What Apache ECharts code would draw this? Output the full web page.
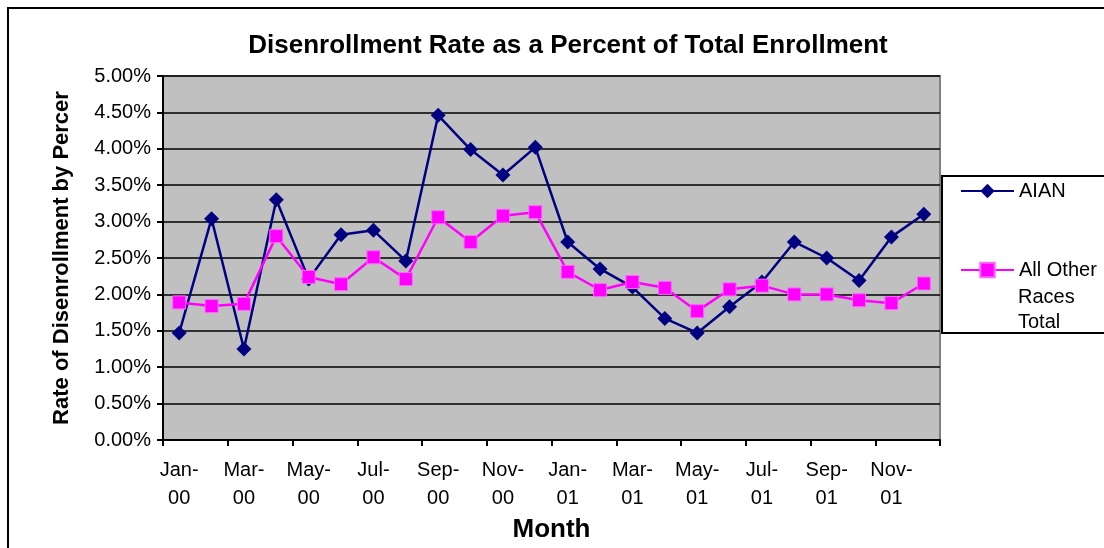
<!DOCTYPE html>
<html>
<head>
<meta charset="utf-8">
<script src="https://cdn.jsdelivr.net/npm/echarts@6/dist/echarts.min.js"></script>
<style>html,body{margin:0;padding:0;background:#fff;}#c{width:1104px;height:548px;}</style>
</head>
<body>
<div id="c"></div>
<script>
var months = ['Jan-00','Feb-00','Mar-00','Apr-00','May-00','Jun-00','Jul-00','Aug-00','Sep-00','Oct-00','Nov-00','Dec-00',
              'Jan-01','Feb-01','Mar-01','Apr-01','May-01','Jun-01','Jul-01','Aug-01','Sep-01','Oct-01','Nov-01','Dec-01'];
var aian = [1.47,3.04,1.25,3.30,2.21,2.82,2.88,2.46,4.46,3.99,3.64,4.02,
            2.72,2.35,2.10,1.67,1.47,1.83,2.17,2.72,2.50,2.19,2.79,3.10];
var otherRaces = [1.89,1.84,1.87,2.80,2.24,2.14,2.51,2.21,3.06,2.72,3.08,3.13,
                  2.31,2.06,2.17,2.09,1.77,2.07,2.12,2.00,2.00,1.92,1.88,2.15];
var yTicks = {min:0, max:5, interval:0.5};

var FONT = '"Liberation Sans", Arial, sans-serif';
var chart = echarts.init(document.getElementById('c'), null, {renderer:'canvas'});
chart.setOption({
  animation:false,
  backgroundColor:'#fff',
  title:{
    text:'Disenrollment Rate as a Percent of Total Enrollment',
    left:563, top:28, textAlign:'center',
    textStyle:{fontFamily:FONT, fontSize:26, fontWeight:'bold', color:'#000'}
  },
  grid:{left:163, top:76, right:164, bottom:108, show:true, backgroundColor:'#C0C0C0', borderColor:'#808080', borderWidth:2},
  legend:[
    {data:['AIAN'], left:955, top:176, padding:5, itemWidth:53, itemHeight:18, orient:'vertical',
     textStyle:{fontFamily:FONT, fontSize:20, color:'#000', padding:[4,0,0,0]}, selectedMode:false},
    {data:['All Other Races Total'], left:955, top:255, padding:5, itemWidth:53, itemHeight:18, orient:'vertical',
     formatter:function(){return 'All Other';},
     textStyle:{fontFamily:FONT, fontSize:20, color:'#000', padding:[6,0,0,0]}, selectedMode:false}
  ],
  xAxis:{
    type:'category', data:months, boundaryGap:true,
    name:'Month', nameLocation:'middle', nameGap:75,
    nameTextStyle:{fontFamily:FONT, fontSize:26, fontWeight:'bold', color:'#000'},
    axisLine:{show:true, lineStyle:{color:'#000', width:2}},
    axisTick:{show:true, interval:1, length:6, lineStyle:{color:'#000', width:2}},
    axisLabel:{interval:1, margin:16, fontFamily:FONT, fontSize:20, color:'#000', lineHeight:28,
      formatter:function(v){var p=v.split('-');return p[0]+'-\n'+p[1];}},
    splitLine:{show:false}
  },
  yAxis:{
    type:'value', min:yTicks.min, max:yTicks.max, interval:yTicks.interval,
    name:'Rate of Disenrollment by Percer', nameLocation:'middle', nameGap:90,
    nameTextStyle:{fontFamily:FONT, fontSize:22, fontWeight:'bold', color:'#000'},
    axisLine:{show:true, lineStyle:{color:'#000', width:2}},
    axisTick:{show:true, length:6, lineStyle:{color:'#000', width:2}},
    axisLabel:{margin:12, fontFamily:FONT, fontSize:20, color:'#000',
      formatter:function(v){return v.toFixed(2)+'%';}},
    splitLine:{show:true, lineStyle:{color:'#000', width:1.5}}
  },
  series:[
    {name:'AIAN', type:'line', data:aian, symbol:'diamond', symbolSize:15,
     lineStyle:{color:'#000080', width:2.5}, itemStyle:{color:'#000080'}, z:3},
    {name:'All Other Races Total', type:'line', data:otherRaces, symbol:'rect', symbolSize:13,
     lineStyle:{color:'#FF00FF', width:2.5}, itemStyle:{color:'#FF00FF', borderColor:'#FF66FF', borderWidth:1}, z:4}
  ],
  graphic:[
    {type:'polyline', shape:{points:[[8,548],[8,8],[1104,8]]}, style:{stroke:'#000', lineWidth:2, fill:null}, z:-1},
    {type:'rect', shape:{x:942, y:176, width:200, height:157}, style:{stroke:'#000', lineWidth:2, fill:'#fff'}, z:-1},
    {type:'text', left:1018, top:285, style:{text:'Races\nTotal', fontFamily:FONT, fontSize:20, lineHeight:25, fill:'#000'}}
  ]
});
</script>
</body>
</html>
